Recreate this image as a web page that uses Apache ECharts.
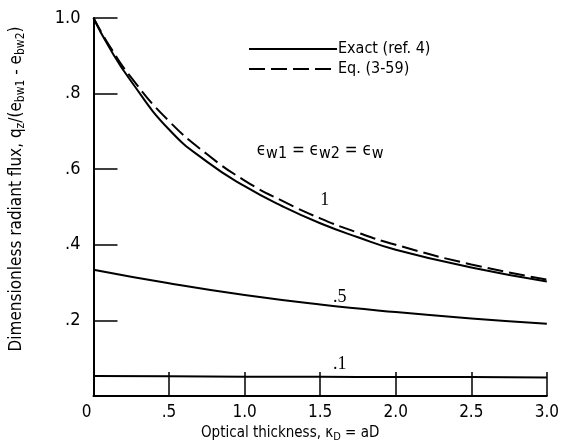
<!DOCTYPE html>
<html>
<head>
<meta charset="utf-8">
<script src="https://cdn.jsdelivr.net/npm/echarts@6/dist/echarts.min.js"></script>
<style>
  html, body { margin: 0; padding: 0; background: #fff; }
  #chart { width: 562px; height: 448px; }
</style>
</head>
<body>
<div id="chart"></div>
<script>
// optical thickness values (x) and flux values
const kappa = [0, 0.1, 0.25, 0.5, 0.75, 1.0, 1.25, 1.5, 1.75, 2.0, 2.5, 3.0];
const exact1 = [1.0, 0.925, 0.832, 0.705, 0.62, 0.555, 0.502, 0.457, 0.42, 0.387, 0.34, 0.303];
const eq1 = [1.0, 0.93, 0.842, 0.727, 0.64, 0.57, 0.516, 0.47, 0.432, 0.40, 0.348, 0.308];
const kappaLow = [0, 0.5, 1.0, 1.5, 2.0, 2.5, 3.0];
const eps05 = [0.334, 0.298, 0.267, 0.242, 0.222, 0.205, 0.191];
const eps01 = [0.053, 0.052, 0.051, 0.051, 0.050, 0.050, 0.049];
const xTicks = ['0', '.5', '1.0', '1.5', '2.0', '2.5', '3.0'];
const yTicks = ['0', '.2', '.4', '.6', '.8', '1.0'];

const FONT = '"DejaVu Sans Condensed", "Liberation Sans Narrow", sans-serif';
const pairs = (xs, ys) => xs.map((x, i) => [x, ys[i]]);

const chart = echarts.init(document.getElementById('chart'));

// invisible point carrying a text label
function textMark(x, y, text, extra) {
  return {
    coord: [x, y], symbol: 'circle', symbolSize: 1,
    itemStyle: { color: 'rgba(0,0,0,0)' },
    label: Object.assign({
      show: true, position: 'inside', formatter: text, color: '#000',
      fontSize: 18, fontFamily: '"Liberation Serif", serif'
    }, extra || {})
  };
}

const option = {
  animation: false,
  grid: { left: 92, right: 13, top: 18, bottom: 52 },
  legend: {
    orient: 'vertical',
    left: 243, top: 36,
    itemWidth: 88, itemHeight: 8, itemGap: 4,
    itemStyle: { opacity: 0 },
    textStyle: { fontFamily: FONT, fontSize: 16, color: '#000', padding: [0, 0, 0, -4] },
    data: ['Exact (ref. 4)', 'Eq. (3-59)']
  },
  xAxis: {
    type: 'value', min: 0, max: 3, interval: 0.5,
    name: 'Optical thickness, κ{sub|D} = aD',
    nameLocation: 'middle', nameGap: 24,
    nameTextStyle: {
      fontFamily: FONT, fontSize: 15, color: '#000', padding: [0, 60, 0, 0],
      rich: { sub: { fontFamily: FONT, fontSize: 11, padding: [8, 0, 0, 0], color: '#000' } }
    },
    axisLine: { lineStyle: { color: '#000', width: 2 } },
    axisTick: { inside: true, length: 24, lineStyle: { color: '#000', width: 1.5 } },
    axisLabel: {
      fontFamily: FONT, fontSize: 17, color: '#000', margin: 8,
      formatter: (v) => v === 0 ? '{z|0}' : xTicks[Math.round(v / 0.5)],
      rich: { z: { fontFamily: FONT, fontSize: 17, color: '#000', padding: [0, 14, 0, 0] } }
    },
    splitLine: { show: false }
  },
  yAxis: {
    type: 'value', min: 0, max: 1, interval: 0.2,
    name: 'Dimensionless radiant flux, q{sub|z}/(e{sub|bw1} - e{sub|bw2})',
    nameLocation: 'middle', nameGap: 67, nameRotate: 90,
    nameTextStyle: {
      fontFamily: FONT, fontSize: 17, color: '#000', padding: [0, 0, 0, 36],
      rich: { sub: { fontFamily: FONT, fontSize: 12, padding: [8, 0, 0, 0], color: '#000' } }
    },
    axisLine: { show: true, lineStyle: { color: '#000', width: 2 } },
    axisTick: { inside: true, length: 24, lineStyle: { color: '#000', width: 1.5 } },
    axisLabel: {
      fontFamily: FONT, fontSize: 18, color: '#000', margin: 13,
      formatter: (v) => v === 0 ? '' : yTicks[Math.round(v / 0.2)]
    },
    splitLine: { show: false }
  },
  series: [
    {
      name: 'Exact (ref. 4)', type: 'line', data: pairs(kappa, exact1),
      smooth: true, symbol: 'none', color: '#000',
      lineStyle: { color: '#000', width: 2 },
      markPoint: {
        data: [
          textMark(1.53, 0.518, '1'),
          textMark(1.63, 0.262, '.5'),
          textMark(1.63, 0.085, '.1'),
          textMark(1.50, 0.65, 'ϵ{sub|w1} = ϵ{sub|w2} = ϵ{sub|w}', {
            fontFamily: FONT, fontSize: 17,
            rich: { sub: { fontFamily: FONT, fontSize: 16, padding: [7, 0, 0, 0], color: '#000' } }
          })
        ]
      }
    },
    {
      name: 'Eq. (3-59)', type: 'line', data: pairs(kappa, eq1),
      smooth: true, symbol: 'none', color: '#000',
      lineStyle: { color: '#000', width: 2, type: [16, 6] }
    },
    {
      name: 'eps 0.5', type: 'line', data: pairs(kappaLow, eps05),
      smooth: true, symbol: 'none',
      lineStyle: { color: '#000', width: 2 }
    },
    {
      name: 'eps 0.1', type: 'line', data: pairs(kappaLow, eps01),
      smooth: true, symbol: 'none',
      lineStyle: { color: '#000', width: 2 }
    }
  ]
};

chart.setOption(option);
</script>
</body>
</html>
